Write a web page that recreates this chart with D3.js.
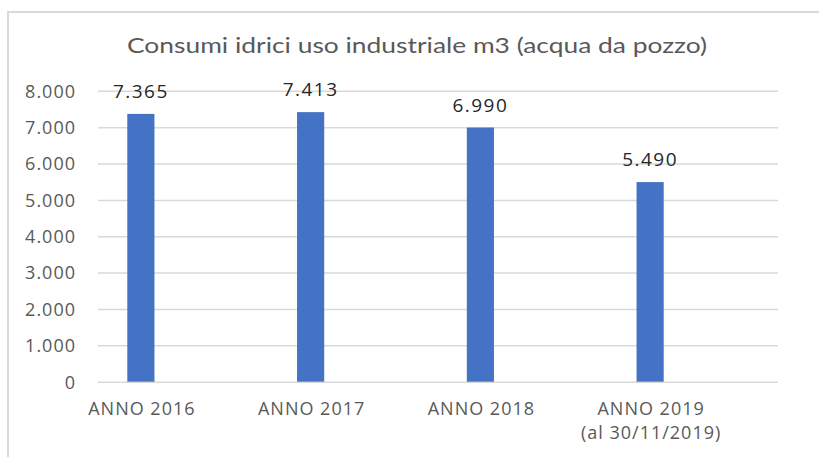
<html><head>
<meta charset="utf-8">
<title>Consumi idrici</title>
<script src="https://d3js.org/d3.v7.min.js"></script>
<style>
  body { margin: 0; background: #fff; }
  .gridlines line { stroke: #d9d9d9; stroke-width: 1.5; }
  .gridlines .domain { stroke: none; }
  .y.axis .domain, .y.axis line { display: none; }
  .y.axis text { font-family: "Open Sans"; font-size: 18px; fill: #595959; letter-spacing: 1px; }
  .cat text { font-family: "Open Sans"; font-size: 18px; fill: #595959; letter-spacing: 1px; text-anchor: middle; }
  .labels text { font-family: "Open Sans"; font-size: 19px; fill: #262626; letter-spacing: 1.5px; text-anchor: middle; }
</style>
</head>
<body>
<svg id="chart" width="819" height="457"></svg>
<script>
  // data
  let categories = ["ANNO 2016", "ANNO 2017", "ANNO 2018", "ANNO 2019\n(al 30/11/2019)"];
  let values = [7365, 7413, 6990, 5490];
  let yTicks = [0, 1000, 2000, 3000, 4000, 5000, 6000, 7000, 8000];
  let title = "Consumi idrici uso industriale m3 (acqua da pozzo)";

  let svg = d3.select("svg#chart");

  // italian style numbers: 8.000
  let it = d3.formatLocale({decimal: ",", thousands: ".", grouping: [3], currency: ["", "€"]});
  let fmt = it.format(",");

  // frame of the chart box (top and left edges visible)
  svg.append("path")
    .attr("d", "M8,457 L8,12 L819,12")
    .attr("fill", "none")
    .attr("stroke", "#d9d9d9")
    .attr("stroke-width", 2);

  svg.append("text")
    .attr("x", 417).attr("y", 53)
    .attr("text-anchor", "middle")
    .attr("font-family", "Lato")
    .attr("font-size", 22)
    .attr("fill", "#595959")
    .attr("textLength", 580)
    .attr("lengthAdjust", "spacingAndGlyphs")
    .text(title);

  const yScale = d3.scaleLinear().domain([0, 8000]).range([381.7, 90.8]);
  const xScale = d3.scaleBand().domain(categories).range([56, 735])
    .paddingInner(0.84).paddingOuter(0.42);

  // gridlines span a slightly different box than the bars
  let grid = d3.axisLeft(yScale).tickValues(yTicks).tickSize(-680).tickFormat("");
  svg.append("g").attr("class", "gridlines")
    .attr("transform", "translate(98,0)")
    .call(grid);

  let leftAxis = d3.axisLeft(yScale).tickValues(yTicks).tickFormat(fmt).tickSize(0).tickPadding(0);
  svg.append("g").attr("class", "y axis")
    .attr("transform", "translate(76,0)")
    .call(leftAxis)
    .selectAll("text").attr("dy", "0.35em");

  svg.append("g").selectAll("rect")
    .data(values)
    .join("rect")
    .attr("x", (d, i) => xScale(categories[i]))
    .attr("width", xScale.bandwidth())
    .attr("y", d => yScale(d))
    .attr("height", d => yScale(0) - yScale(d))
    .attr("fill", "#4472c4");

  svg.append("g").attr("class", "labels").selectAll("text")
    .data(values)
    .join("text")
    .attr("x", (d, i) => xScale(categories[i]) + xScale.bandwidth() / 2)
    .attr("y", d => yScale(d) - 16)
    .text(d => fmt(d));

  let cat = svg.append("g").attr("class", "cat");
  categories.forEach((c, i) => {
    let t = cat.append("text")
      .attr("x", xScale(c) + xScale.bandwidth() / 2 + 1)
      .attr("y", 415);
    c.split("\n").forEach((line, j) => {
      t.append("tspan")
        .attr("x", xScale(c) + xScale.bandwidth() / 2 + 1)
        .attr("dy", j == 0 ? 0 : 24)
        .text(line);
    });
  });
</script>
</body>
</html>
